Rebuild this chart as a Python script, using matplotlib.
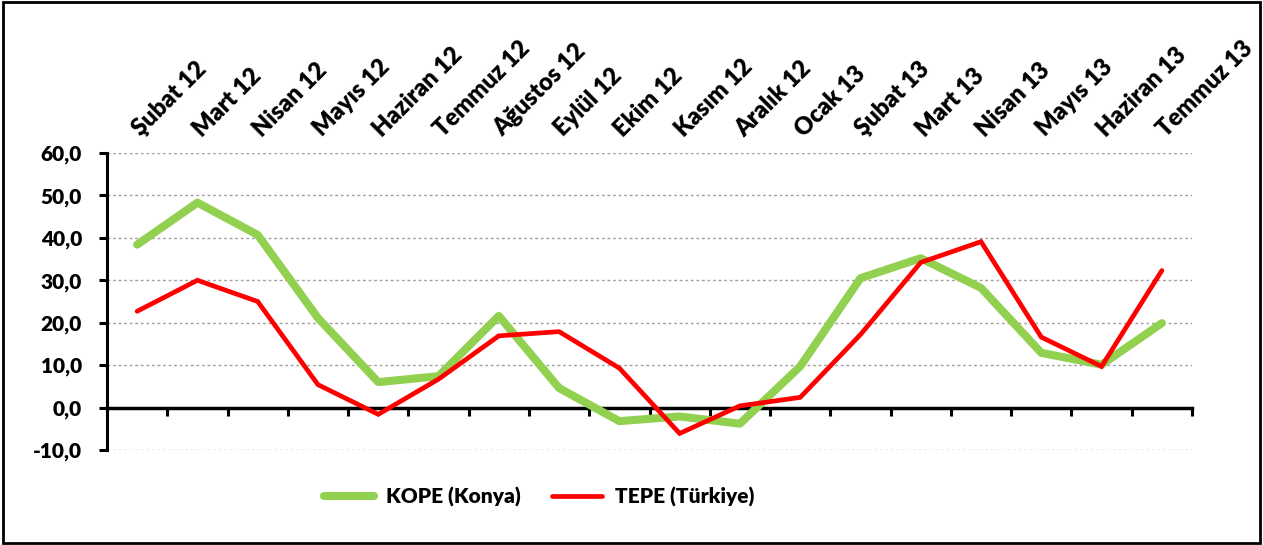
import matplotlib
matplotlib.use("Agg")
import matplotlib.pyplot as plt
from matplotlib.patches import Rectangle
from matplotlib.ticker import FuncFormatter, FixedLocator
from matplotlib.transforms import ScaledTranslation

plt.rcParams['font.family'] = ['Lato', 'DejaVu Sans']
W = 'heavy'

months = ["Şubat 12", "Mart 12", "Nisan 12", "Mayıs 12", "Haziran 12", "Temmuz 12",
          "Ağustos 12", "Eylül 12", "Ekim 12", "Kasım 12", "Aralık 12", "Ocak 13",
          "Şubat 13", "Mart 13", "Nisan 13", "Mayıs 13", "Haziran 13", "Temmuz 13"]
kope = [38.4, 48.3, 40.7, 21.1, 6.0, 7.4, 21.6, 4.6, -3.2, -2.1, -3.8, 9.7,
        30.5, 35.2, 28.2, 12.9, 10.1, 19.9]
tepe = [22.7, 30.0, 25.0, 5.4, -1.6, 6.7, 16.9, 17.9, 9.3, -6.1, 0.4, 2.4,
        17.2, 34.2, 39.1, 16.6, 9.7, 32.3]
yticks = [-10, 0, 10, 20, 30, 40, 50, 60]

fig = plt.figure(figsize=(12.63, 5.45), dpi=100)
ax = fig.add_axes([107/1263, 1-450/545, (1192-107)/1263, (450-153)/545])

x = list(range(len(months)))
ax.plot(x, kope, color='#92D050', lw=5.8, solid_capstyle='round', solid_joinstyle='round',
        label='KOPE (Konya)', zorder=3)
ax.plot(x, tepe, color='#FF0000', lw=3.4, solid_capstyle='round', solid_joinstyle='miter',
        label='TEPE (Türkiye)', zorder=4)

ax.set_xlim(-0.5, len(months) - 0.5)
ax.set_ylim(-10, 60)
ax.set_yticks(yticks)
ax.yaxis.set_major_formatter(FuncFormatter(lambda v, p: f"{v:.1f}".replace('.', ',')))
ax.tick_params(axis='y', direction='out', length=6, width=2.2, labelsize=15, pad=12)
for lab in ax.get_yticklabels():
    lab.set_fontweight(W)

ax.grid(axis='y', color='#A0A0A0', linestyle=(0, (2, 2)), lw=1.0)
ax.set_axisbelow(True)

for s in ['top', 'right']:
    ax.spines[s].set_visible(False)
ax.spines['left'].set_linewidth(2.2)
ax.spines['bottom'].set_position(('data', 0))
ax.spines['bottom'].set_linewidth(2.5)
ax.spines['bottom'].set_zorder(2)

ax.xaxis.set_major_locator(FixedLocator([i - 0.5 for i in range(len(months) + 1)]))
ax.tick_params(axis='x', direction='out', length=6, width=2.2, labelbottom=False)

sec = ax.secondary_xaxis('top')
sec.set_xticks(x)
sec.set_xticklabels(months, rotation=45, ha='left', va='bottom', rotation_mode='anchor',
                    fontsize=17, fontweight=W)
sec.tick_params(axis='x', length=0, pad=9)
sec.spines['top'].set_visible(False)
shift = ScaledTranslation(5/72, 0, fig.dpi_scale_trans)
for lab in sec.get_xticklabels():
    lab.set_transform(lab.get_transform() + shift)

leg = fig.legend(loc='center', bbox_to_anchor=(539/1263, 1-497/545), ncol=2, frameon=False,
                 prop={'size': 15, 'weight': W}, handlelength=2.4, columnspacing=1.5,
                 handletextpad=0.6)

fig.patches.append(Rectangle((0.002, 0.004), 0.996, 0.992, transform=fig.transFigure,
                             fill=False, edgecolor='black', lw=2))

fig.savefig('out.png', dpi=100)
